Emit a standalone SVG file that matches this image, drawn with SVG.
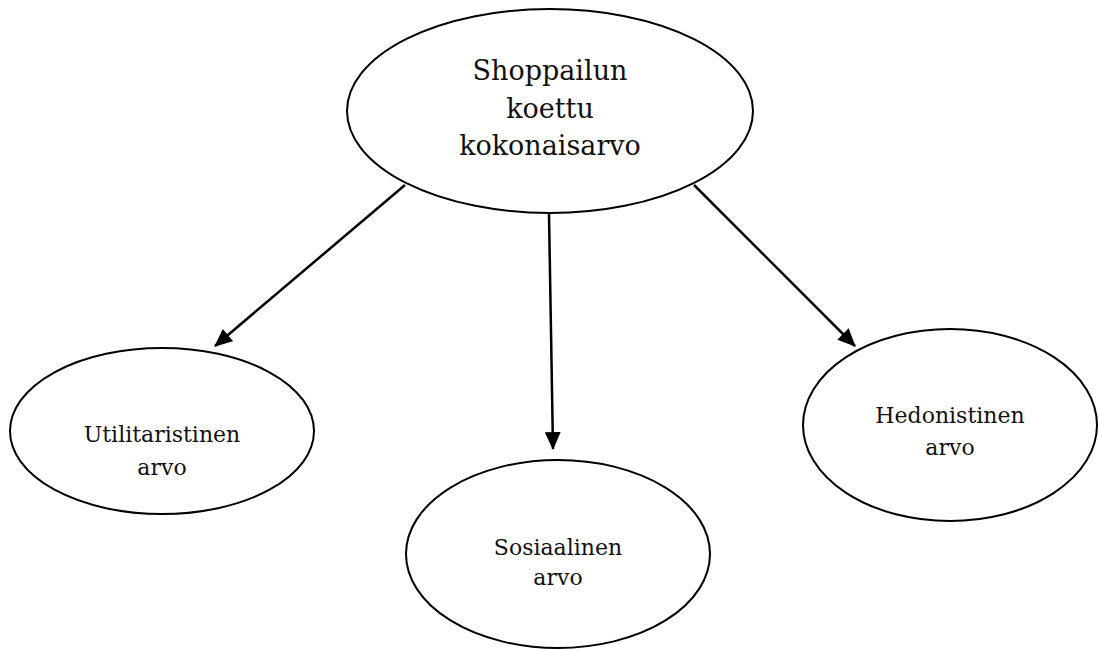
<svg xmlns="http://www.w3.org/2000/svg" width="1099" height="650" viewBox="0 0 1099 650">
<style>
.node{fill:#fff;stroke:#000;stroke-width:2}
.big{font-family:"DejaVu Serif","Liberation Serif",serif;font-size:27px;fill:#111;text-anchor:middle}
.sm{font-family:"DejaVu Serif","Liberation Serif",serif;font-size:22px;fill:#111;text-anchor:middle}
.edge{stroke:#000;stroke-width:2.5;fill:none;marker-end:url(#ah)}
</style>
<defs>
<marker id="ah" markerWidth="18" markerHeight="16" refX="17" refY="8" orient="auto" markerUnits="userSpaceOnUse">
<path d="M0,0 L18,8 L0,16 Z" fill="#000"/>
</marker>
</defs>
<rect width="1099" height="650" fill="#fff"/>
<g id="connectors">
<line class="edge" x1="405" y1="185" x2="215" y2="346"/>
<line class="edge" x1="549" y1="214" x2="553" y2="449"/>
<line class="edge" x1="694" y1="185" x2="855" y2="346"/>
</g>
<g id="n-total">
<ellipse class="node" cx="550" cy="111" rx="203" ry="102"/>
<text class="big" x="550" y="80">Shoppailun</text>
<text class="big" x="550" y="118">koettu</text>
<text class="big" x="550" y="155">kokonaisarvo</text>
</g>
<g id="n-util">
<ellipse class="node" cx="162" cy="431" rx="152" ry="83"/>
<text class="sm" x="162" y="442">Utilitaristinen</text>
<text class="sm" x="162" y="475">arvo</text>
</g>
<g id="n-sos">
<ellipse class="node" cx="558" cy="554" rx="152" ry="94"/>
<text class="sm" x="558" y="555">Sosiaalinen</text>
<text class="sm" x="558" y="585">arvo</text>
</g>
<g id="n-hed">
<ellipse class="node" cx="950" cy="425" rx="147" ry="96"/>
<text class="sm" x="950" y="423">Hedonistinen</text>
<text class="sm" x="950" y="455">arvo</text>
</g>
</svg>
